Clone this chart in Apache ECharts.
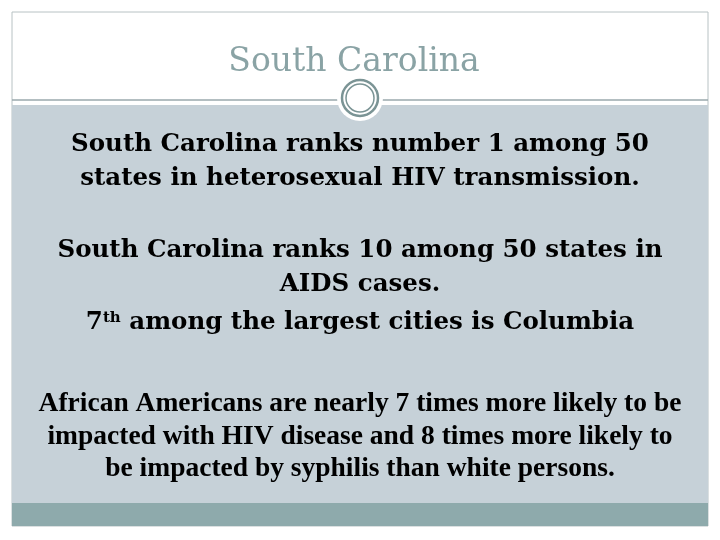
<!DOCTYPE html><html><head><meta charset="utf-8"><script src="https://cdn.jsdelivr.net/npm/echarts@6/dist/echarts.min.js"></script>
<style>html,body{margin:0;padding:0;background:#fff}#c{width:720px;height:540px}</style></head><body><div id="c"></div><script>
var titleText = 'South Carolina';
var para1 = ['South Carolina ranks number 1 among 50', 'states in heterosexual HIV transmission.'];
var para2 = ['South Carolina ranks 10 among 50 states in', 'AIDS cases.'];
var para3 = ['African Americans are nearly 7 times more likely to be', 'impacted with HIV disease and 8 times more likely to', 'be impacted by syphilis than white persons.'];
var chart = echarts.init(document.getElementById('c'));
var g = [
 {type:'rect', shape:{x:12,y:12,width:696,height:514}, style:{fill:'#fff', stroke:'#b8c2c4', lineWidth:1}},
 {type:'rect', shape:{x:12,y:105,width:696,height:398}, style:{fill:'#c6d1d8'}},
 {type:'rect', shape:{x:12,y:503,width:696,height:23}, style:{fill:'#8eaaac'}},
 {type:'line', shape:{x1:12,y1:100,x2:708,y2:100}, style:{stroke:'#9aa9ad', lineWidth:1.5}},
 {type:'circle', shape:{cx:360,cy:98,r:23}, style:{fill:'#fff'}},
 {type:'circle', shape:{cx:360,cy:98,r:18}, style:{fill:'#fff', stroke:'#7b9495', lineWidth:2.5}},
 {type:'circle', shape:{cx:360,cy:98,r:14}, style:{fill:'none', stroke:'#7b9495', lineWidth:1.5}},
 {type:'text', x:354, y:62, style:{text:titleText, font:'33px "DejaVu Serif", Georgia, serif', fill:'#8aa3a5', align:'center', verticalAlign:'middle'}}
];
function addLines(lines, y0, step, font){
  lines.forEach(function(t,i){ g.push({type:'text', x:360, y:y0+i*step, style:{text:t, font:font, fill:'#000', align:'center', verticalAlign:'middle'}}); });
}
var f1 = 'bold 24.5px "DejaVu Serif", Georgia, serif';
addLines(para1, 145, 34, f1);
addLines(para2, 251, 34, f1);
g.push({type:'text', x:360, y:323, style:{rich:{a:{font:f1,fill:'#000'},s:{font:'bold 15px "DejaVu Serif", serif',fill:'#000',verticalAlign:'top',padding:[0,0,10,0]}}, text:'{a|7}{s|th}{a| among the largest cities is Columbia}', align:'center', verticalAlign:'middle'}});
addLines(para3, 404, 32.5, 'bold 27.5px "Liberation Serif", "Times New Roman", serif');
chart.setOption({graphic:g});
</script></body></html>
